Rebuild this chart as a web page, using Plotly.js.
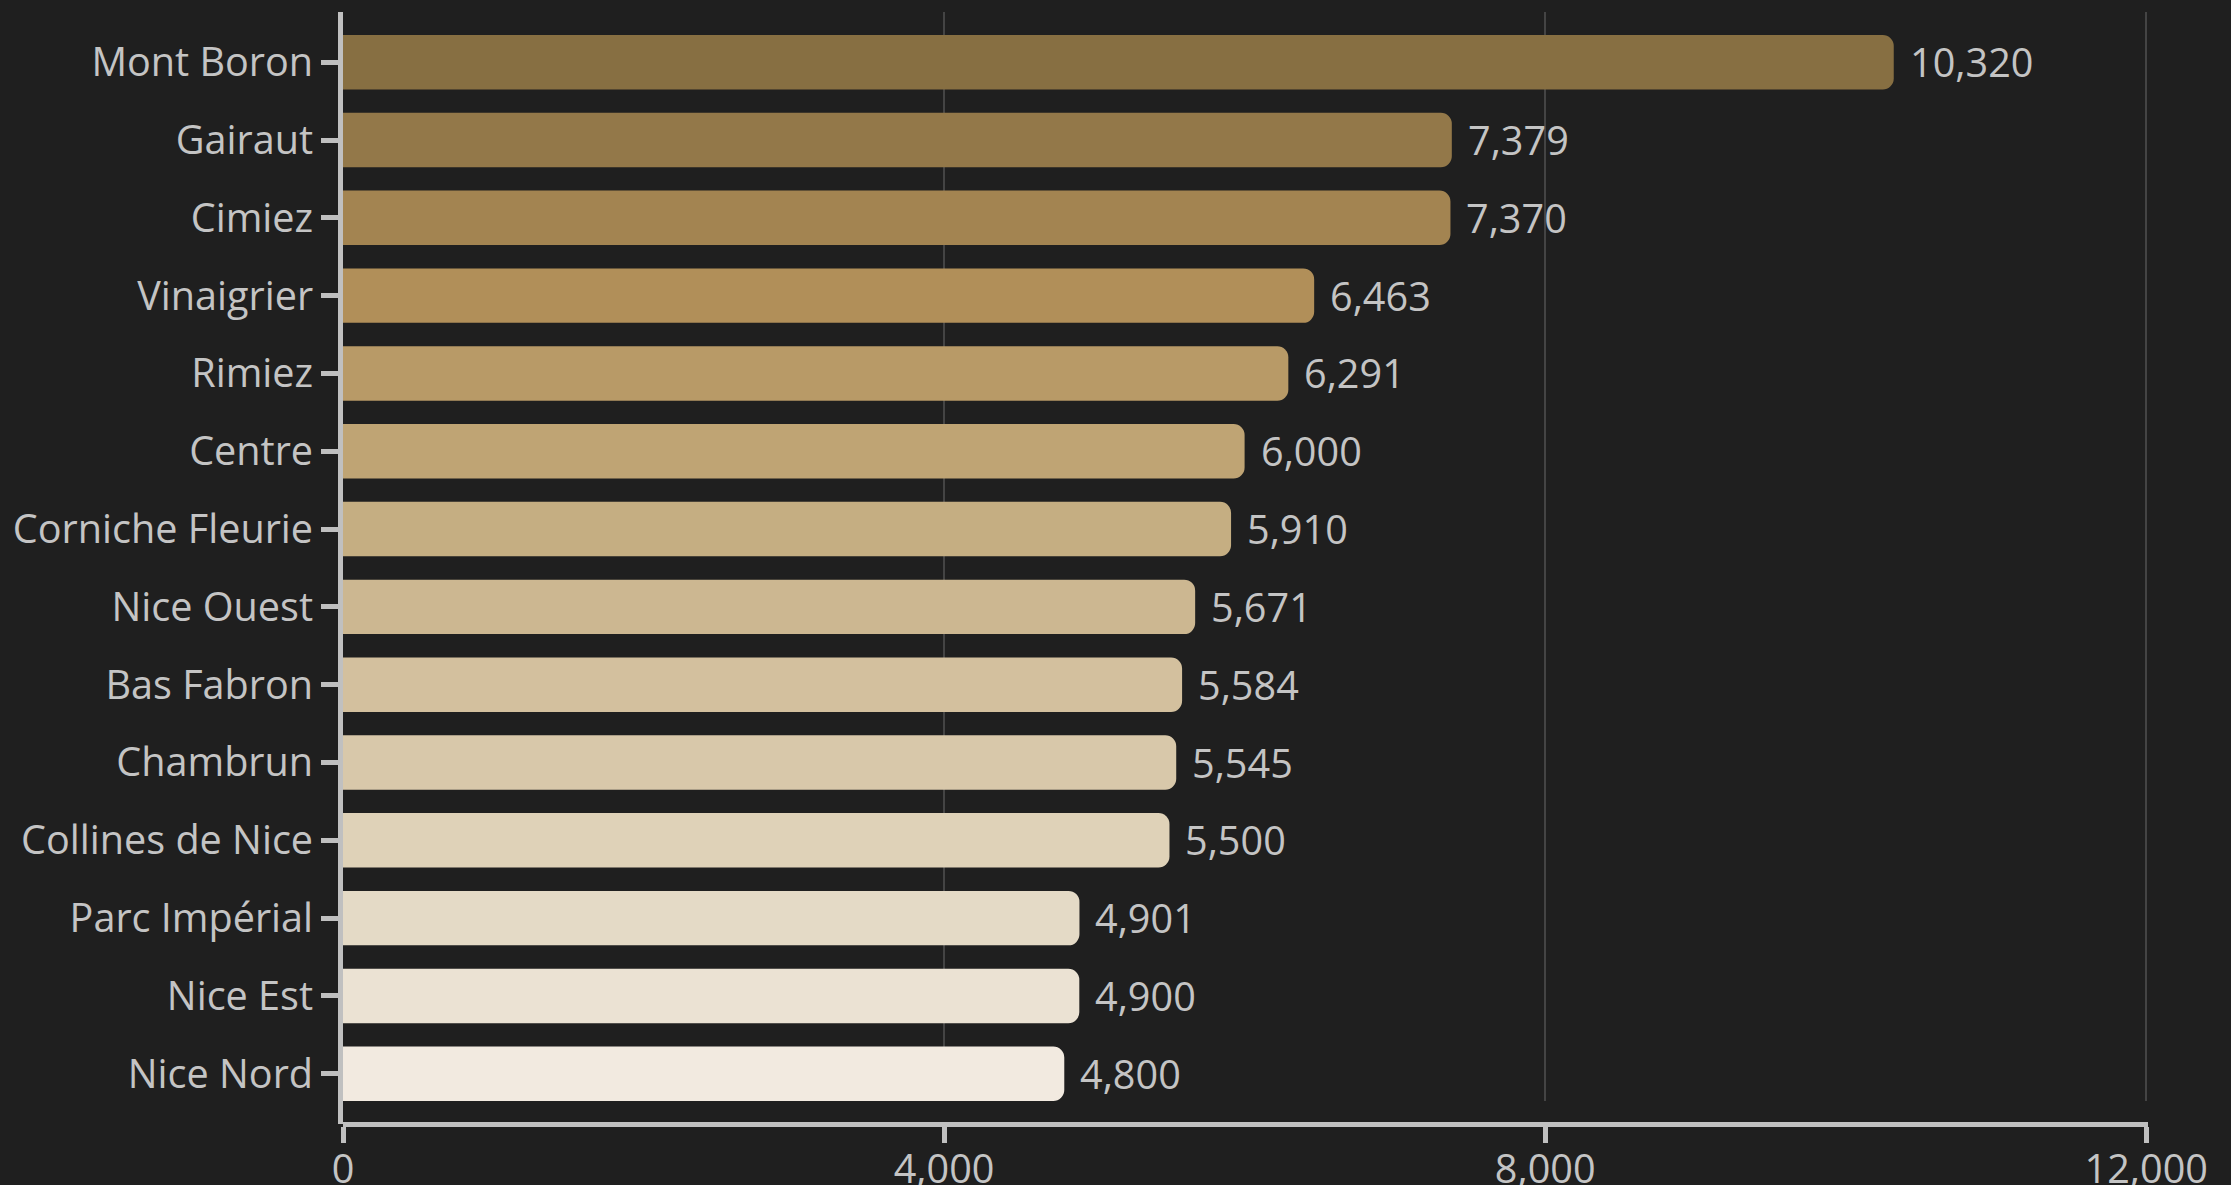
<!DOCTYPE html>
<html>
<head>
<meta charset="utf-8">
<script src="https://cdn.plot.ly/plotly-3.0.1.min.js"></script>
<style>
  html, body { margin: 0; padding: 0; background: #1f1f1f; }
  #chart { width: 2231px; height: 1185px; }
</style>
</head>
<body>
<div id="chart"></div>
<script>
// ---- data ----
const categories = [
  "Mont Boron", "Gairaut", "Cimiez", "Vinaigrier", "Rimiez", "Centre",
  "Corniche Fleurie", "Nice Ouest", "Bas Fabron", "Chambrun",
  "Collines de Nice", "Parc Impérial", "Nice Est", "Nice Nord"
];
const values = [10320, 7379, 7370, 6463, 6291, 6000, 5910, 5671, 5584, 5545, 5500, 4901, 4900, 4800];
const xTickVals = [0, 4000, 8000, 12000];
const xTickText = ["0", "4,000", "8,000", "12,000"];

// ---- style ----
const barColors = [
  "#876f42", "#937849", "#a38451", "#b18f59", "#b89a67", "#bfa474",
  "#c5ae82", "#ccb791", "#d3c09e", "#d8c8aa", "#dfd2b8", "#e4dac6",
  "#ebe2d3", "#f2eae0"
];
const bg = "#1f1f1f";
const fg = "#c4c4c4";
const lineCol = "#c0c0c0";
const gridCol = "#444444";
const fontFam = "Open Sans, Noto Sans, sans-serif";
const fs = 39.6;

const yDomainBottom = 23 / 1112;

const trace = {
  type: "bar",
  orientation: "h",
  x: values,
  y: categories,
  marker: { color: barColors, cornerradius: 11, line: { width: 0 } },
  hoverinfo: "x+y",
  cliponaxis: false
};

const annotations = categories.map((c, i) => ({
  x: values[i],
  y: c,
  xref: "x",
  yref: "y",
  text: values[i].toLocaleString("en-US"),
  showarrow: false,
  xanchor: "left",
  yanchor: "middle",
  xshift: 14,
  font: { family: fontFam, size: fs, color: fg }
}));

const layout = {
  width: 2231,
  height: 1185,
  paper_bgcolor: bg,
  plot_bgcolor: bg,
  margin: { l: 343, r: 83, t: 12, b: 61, pad: 0 },
  showlegend: false,
  bargap: 0.3,
  font: { family: fontFam, size: fs, color: fg },
  xaxis: {
    range: [0, 12012],
    anchor: "free",
    position: 0,
    tickmode: "array",
    tickvals: xTickVals,
    ticktext: xTickText,
    showline: true,
    linewidth: 5,
    linecolor: lineCol,
    ticks: "outside",
    ticklen: 16,
    tickwidth: 5,
    tickcolor: lineCol,
    ticklabelstandoff: -8,
    showgrid: true,
    gridcolor: gridCol,
    gridwidth: 2,
    zeroline: false,
    automargin: false,
    tickfont: { family: fontFam, size: fs, color: fg },
    fixedrange: true
  },
  yaxis: {
    type: "category",
    domain: [yDomainBottom, 1],
    range: [13.35, -0.645],
    showline: true,
    linewidth: 5,
    linecolor: lineCol,
    ticks: "outside",
    ticklen: 17,
    tickwidth: 5,
    tickcolor: lineCol,
    showgrid: false,
    zeroline: false,
    automargin: false,
    tickfont: { family: fontFam, size: fs, color: fg },
    fixedrange: true
  },
  shapes: [{
    type: "line",
    xref: "paper",
    yref: "paper",
    xsizemode: "pixel",
    xanchor: 0,
    x0: -2.5,
    x1: -2.5,
    y0: 0,
    y1: yDomainBottom + 0.005,
    line: { color: lineCol, width: 5 },
    layer: "above"
  }],
  annotations: annotations
};

Plotly.newPlot("chart", [trace], layout, { displayModeBar: false, staticPlot: true });
</script>
</body>
</html>
